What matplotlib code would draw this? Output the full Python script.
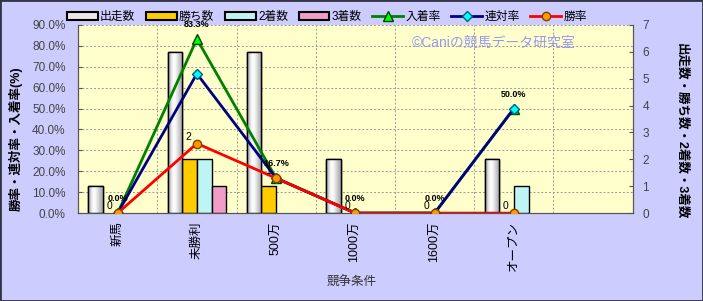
import matplotlib
matplotlib.use("Agg")
import matplotlib.pyplot as plt
from matplotlib.patches import Patch
import numpy as np

plt.rcParams['font.family'] = ['Liberation Sans', 'Noto Sans CJK JP', 'DejaVu Sans']

categories = ['新馬', '未勝利', '500万', '1000万', '1600万', 'オープン']
n_slots = 7
runs = [1, 6, 6, 2, 0, 2]        # 出走数
wins = [0, 2, 1, 0, 0, 0]        # 勝ち数
seconds = [0, 2, 0, 0, 0, 1]     # 2着数
thirds = [0, 1, 0, 0, 0, 0]      # 3着数
place_rate = [0.0, 83.3, 16.7, 0.0, 0.0, 50.0]   # 入着率
rentai_rate = [0.0, 66.7, 16.7, 0.0, 0.0, 50.0]  # 連対率
win_rate = [0.0, 33.3, 16.7, 0.0, 0.0, 0.0]      # 勝率

fig = plt.figure(figsize=(7.03, 3.01), dpi=100)
fig.patch.set_facecolor('#CCCCFF')
fig.patches.append(plt.Rectangle((0, 0), 1, 1, transform=fig.transFigure,
                                 fill=False, edgecolor='#333344', linewidth=2))

ax_bar = fig.add_axes([0.111, 0.292, 0.789, 0.625])
ax_bar.set_facecolor('#FFFFCC')
ax_line = ax_bar.twinx()

x = np.arange(len(categories)) + 0.5
bw = 0.185
series = [(runs, '#E8E8E8', '出走数'), (wins, '#FFCC00', '勝ち数'),
          (seconds, '#BFF4F4', '2着数'), (thirds, '#F29CC8', '3着数')]
bar_handles = []
bar_containers = []
for i, (vals, col, lab) in enumerate(series):
    h = ax_bar.bar(x + (i - 1.5) * bw, vals, width=bw, color=col,
                   edgecolor='black', linewidth=1.0, zorder=3)
    for p in h.patches:
        if p.get_height() == 0:
            p.set_visible(False)
    bar_containers.append(h)
    bar_handles.append(Patch(facecolor=col, edgecolor='black', linewidth=1.5))

# cylinder-like gradient on 出走数 bars
grad = np.array([[0.62, 0.80, 0.95, 1.0, 0.97, 0.90, 0.82, 0.74, 0.66]])
for p in bar_containers[0].patches:
    if p.get_height() > 0:
        x0, y0 = p.get_x(), p.get_y()
        im = ax_bar.imshow(grad, cmap='gray', vmin=0, vmax=1, aspect='auto',
                           extent=(x0, x0 + p.get_width(), y0, y0 + p.get_height()),
                           interpolation='bicubic', zorder=3.1)
        im.set_clip_path(p)
        ax_bar.add_patch(plt.Rectangle((x0, y0), p.get_width(), p.get_height(),
                                       fill=False, edgecolor='black', linewidth=1.0, zorder=3.2))

ax_bar.set_xlim(0, n_slots)
ax_bar.set_ylim(0, 7)
ax_bar.set_yticks(range(0, 8))
ax_bar.yaxis.tick_right()
ax_bar.set_xticks(x)
ax_bar.set_xticklabels(categories, rotation=90, fontsize=9, color='black')
ax_bar.tick_params(axis='x', length=0, pad=6)
ax_bar.tick_params(axis='y', labelsize=8.5, labelcolor='#444444', length=3, direction='in',
                   color='#555555', pad=7)

for v in range(1, n_slots):
    ax_bar.axvline(v, color='#999999', linestyle=(0, (2, 2)), linewidth=0.7, zorder=1)

ax_line.yaxis.tick_left()
ax_line.set_ylim(0, 90)
ax_line.set_yticks(np.arange(0, 91, 10))
ax_line.set_yticklabels([f'{v:.1f}%' for v in np.arange(0, 91, 10)])
ax_line.tick_params(axis='y', labelsize=8.5, labelcolor='#444444', length=3, direction='in',
                    color='#555555', pad=9)
for v in np.arange(10, 91, 10):
    ax_bar.axhline(v / 90 * 7, color='#999999', linestyle=(0, (2, 2)), linewidth=0.7, zorder=1)

l1, = ax_line.plot(x, place_rate, color='#008000', linewidth=2, marker='^',
                   markersize=7, markerfacecolor='#00FF00', markeredgecolor='#004000', zorder=4)
l2, = ax_line.plot(x, rentai_rate, color='#000080', linewidth=2, marker='D',
                   markersize=5, markerfacecolor='#00FFFF', markeredgecolor='#006080', zorder=5)
l3, = ax_line.plot(x, win_rate, color='#FF0000', linewidth=2, marker='o',
                   markersize=6, markerfacecolor='#FF9900', markeredgecolor='#804000', zorder=6)
ax_line.set_xlim(0, n_slots)

for xi, v in zip(x, place_rate):
    ax_line.annotate(f'{v:.1f}%', (xi, v), xytext=(0, 7), textcoords='offset points',
                     ha='center', va='bottom', fontsize=6.5, fontweight='bold', color='black',
                     annotation_clip=False, zorder=8)
for xi, v, w in zip(x, win_rate, wins):
    ax_line.annotate(f'{w}', (xi, v), xytext=(-6, 5), textcoords='offset points',
                     ha='center', va='center', fontsize=7.5, color='black', zorder=8)

for ax in (ax_bar, ax_line):
    ax.spines['top'].set_visible(False)
    for s in ('left', 'right', 'bottom'):
        ax.spines[s].set_color('#555555')

ax_line.text(0.75, 0.904, '©Caniの競馬データ研究室', transform=ax_bar.transAxes,
             ha='center', va='center', fontsize=10, color='#9999EE', zorder=2)

fig.text(0.022, 0.54, '勝率・連対率・入着率(%)', rotation=90, ha='center', va='center',
         fontsize=9, fontweight='bold', color='black')
fig.text(0.968, 0.565, '出走数・勝ち数・2着数・3着数', rotation=-90, ha='center', va='center',
         fontsize=9, fontweight='bold', color='black')
fig.text(0.50, 0.06, '競争条件', ha='center', va='center', fontsize=9, color='#333333')

handles = bar_handles + [l1, l2, l3]
labels = ['出走数', '勝ち数', '2着数', '3着数', '入着率', '連対率', '勝率']
leg = fig.legend(handles, labels, loc='center', bbox_to_anchor=(0.465, 0.943), ncol=7,
                 frameon=False, fontsize=8.5, handlelength=2.6, handleheight=0.6,
                 columnspacing=0.9, handletextpad=0.2)

fig.savefig('out.png', dpi=100, facecolor=fig.get_facecolor())
